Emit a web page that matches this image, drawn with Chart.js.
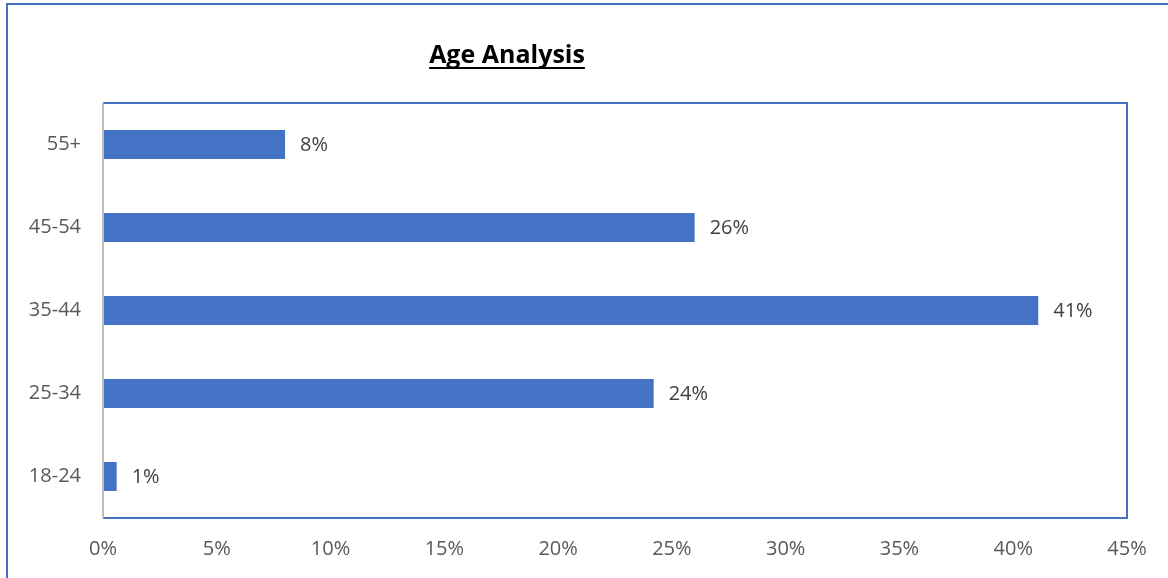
<!DOCTYPE html>
<html>
<head>
<meta charset="utf-8">
<script src="https://cdn.jsdelivr.net/npm/chart.js@4"></script>
<style>
  html, body { margin: 0; padding: 0; background: #fff; }
  #wrap { width: 1168px; height: 578px; position: relative; }
</style>
</head>
<body>
<div id="wrap"><canvas id="ageCanvas" width="1168" height="578"></canvas></div>
<script>
// chart data
const ageGroups = ['18-24', '25-34', '35-44', '45-54', '55+'];
const sharePct = [0.6, 24.2, 41.1, 26.0, 8.0];
const shareLabels = ['1%', '24%', '41%', '26%', '8%'];
const xTicks = [0, 5, 10, 15, 20, 25, 30, 35, 40, 45];

const blue = '#4472C4';
const fontFam = '"Open Sans", "Liberation Sans", sans-serif';

// draws the outer box, title, plot frame and value labels
const decorPlugin = {
  id: 'decor',
  afterDraw(chart) {
    const ctx = chart.ctx;
    const area = chart.chartArea;
    ctx.save();

    // outer frame (only top and left visible)
    ctx.strokeStyle = blue;
    ctx.lineWidth = 2;
    ctx.beginPath();
    ctx.moveTo(7, 578);
    ctx.lineTo(7, 4);
    ctx.lineTo(1168, 4);
    ctx.stroke();

    // title
    ctx.fillStyle = '#000';
    ctx.font = 'bold 25px ' + fontFam;
    ctx.textAlign = 'center';
    ctx.textBaseline = 'alphabetic';
    const title = 'Age Analysis';
    ctx.fillText(title, 507, 63);
    const tw = ctx.measureText(title).width;
    ctx.fillRect(507 - tw / 2, 67, tw, 2);

    // plot frame
    ctx.strokeStyle = blue;
    ctx.lineWidth = 2;
    ctx.beginPath();
    ctx.moveTo(area.left, area.top);
    ctx.lineTo(area.right, area.top);
    ctx.lineTo(area.right, area.bottom);
    ctx.lineTo(area.left, area.bottom);
    ctx.stroke();
    ctx.strokeStyle = '#BFBFBF';
    ctx.beginPath();
    ctx.moveTo(area.left, area.top);
    ctx.lineTo(area.left, area.bottom);
    ctx.stroke();

    // value labels
    ctx.fillStyle = '#404040';
    ctx.font = '20px ' + fontFam;
    ctx.textAlign = 'left';
    ctx.textBaseline = 'middle';
    const meta = chart.getDatasetMeta(0);
    meta.data.forEach((bar, i) => {
      ctx.fillText(shareLabels[i], bar.x + 15, bar.y + 1);
    });
    ctx.restore();
  }
};

const config = {
  type: 'bar',
  data: {
    labels: ageGroups,
    datasets: [{
      data: sharePct,
      backgroundColor: blue,
      borderWidth: 0,
      barPercentage: 0.35,
      categoryPercentage: 1
    }]
  },
  options: {
    indexAxis: 'y',
    responsive: false,
    animation: false,
    layout: { padding: { top: 103, right: 41, bottom: 0, left: 0 } },
    plugins: {
      legend: { display: false },
      tooltip: { enabled: false },
      title: { display: false }
    },
    scales: {
      x: {
        min: 0,
        max: 45,
        afterBuildTicks: (scale) => { scale.ticks = xTicks.map(v => ({ value: v })); },
        afterFit: (scale) => { scale.height = 60; },
        grid: { display: false, drawTicks: false },
        border: { display: false },
        ticks: {
          padding: 19,
          color: '#595959',
          font: { family: fontFam, size: 20 },
          callback: (v) => v + '%'
        }
      },
      y: {
        reverse: true,
        afterFit: (scale) => { scale.width = 103; },
        grid: { display: false, drawTicks: false },
        border: { display: false },
        ticks: {
          padding: 22,
          color: '#595959',
          font: { family: fontFam, size: 20 }
        }
      }
    }
  },
  plugins: [decorPlugin]
};

new Chart(document.getElementById('ageCanvas'), config);
</script>
</body>
</html>
